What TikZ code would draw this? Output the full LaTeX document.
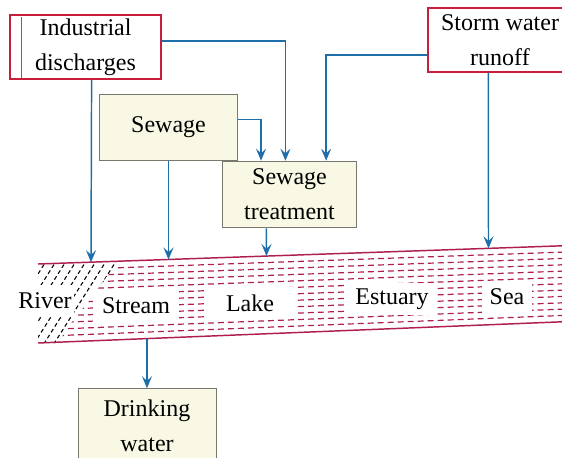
\documentclass[tikz,border=0pt]{standalone}
\usepackage{fontspec}
\setmainfont{Liberation Serif}
\usepackage{xcolor}
\usetikzlibrary{arrows.meta}
\usetikzlibrary{calc}

\definecolor{flowblue}{RGB}{30,110,170}
\definecolor{boxred}{RGB}{200,30,60}
\definecolor{riverred}{RGB}{175,30,80}
\definecolor{paleyellow}{RGB}{249,248,228}
\definecolor{boxgray}{RGB}{120,120,110}

\begin{document}
\begin{tikzpicture}[x=0.75pt,y=-0.75pt,
  font=\fontsize{18}{26}\selectfont,
  redbox/.style={draw=boxred,line width=1.2pt,fill=white,align=center,inner sep=0pt},
  paperbox/.style={draw=boxgray,line width=0.7pt,fill=paleyellow,align=center,inner sep=0pt},
  flow/.style={draw=flowblue,line width=1.1pt,-{Stealth[length=9pt,width=7.5pt,inset=3.5pt]}},
  waterlabel/.style={fill=white,inner xsep=2pt,inner ysep=3pt,minimum height=24pt},
  riverdash/.style={riverred,line width=0.9pt,dash pattern=on 4.5pt off 3pt},
  hatchdash/.style={black,line width=0.8pt,dash pattern=on 3pt off 2.2pt}]
  \useasboundingbox (0,0) rectangle (562,458);
  \clip (0,0) rectangle (562,458);

  \node (ind) [redbox,minimum width=113pt,minimum height=48pt] at (85.5,47) {Industrial\\discharges};
  \node (storm) [redbox,minimum width=108pt,minimum height=48pt] at (500,40) {Storm water\\runoff};
  \node (sew) [paperbox,minimum width=104pt,minimum height=49pt] at (168.5,127.5) {Sewage};
  \node (treat) [paperbox,minimum width=101pt,minimum height=50pt] at (289.5,194.5) {Sewage\\treatment};
  \node (drink) [paperbox,minimum width=103.5pt,minimum height=56pt] at (147,426) {Drinking\\water};
  \draw[flowblue!60!gray,line width=0.5pt] ($(ind.north west)+(12,3)$) -- ($(ind.south west)+(12,-2)$);

  \coordinate (tl) at (38,264);
  \coordinate (tr) at (562,245.8);
  \coordinate (bl) at (38,343);
  \coordinate (br) at (562,321.8);
  \begin{scope}
    \clip (124,261) .. controls (100,280) and (98,290) .. (90,300)
      .. controls (80,312) and (72,320) .. (58,343) -- (570,343) -- (570,240) -- cycle;
    \foreach \k in {1,...,11}
      \draw[riverdash] ($(tl)!\k/12!(bl)$) -- ($(tr)!\k/12!(br)$);
  \end{scope}
  \begin{scope}
    \clip (38,264) -- (124,261) .. controls (100,280) and (98,290) .. (90,300)
      .. controls (80,312) and (72,320) .. (58,343) -- (38,343) -- cycle;
    \foreach \x in {-40,-30,...,140}
      \draw[hatchdash] (\x,350) -- ++(60,-95);
  \end{scope}
  \draw[riverred,line width=1.1pt] (tl) -- (tr) (bl) -- (br);

  \node (river) [waterlabel] at (45,301) {River};
  \node (stream) [waterlabel,minimum width=64pt] at (136,306) {Stream};
  \node (lake) [waterlabel,minimum width=67pt] at (250,303) {Lake};
  \node (estuary) [waterlabel,minimum width=68pt] at (392,299) {Estuary};
  \node (sea) [waterlabel,minimum width=38pt] at (507,297) {Sea};

  \coordinate (indin) at (91,262.2);
  \coordinate (sewin) at (168.5,259.5);
  \coordinate (treatin) at (266.5,256);
  \coordinate (stormin) at (488.5,248.3);
  \coordinate (riverout) at (147,338.5);

  \draw[flow] ($(ind.north east)!.41!(ind.south east)$) -| ($(treat.north west)!.47!(treat.north east)$);
  \draw[flow] ($(storm.north west)!.73!(storm.south west)$) -| ($(treat.north west)!.77!(treat.north east)$);
  \draw[flow] ($(sew.north east)!.38!(sew.south east)$) -| ($(treat.north west)!.29!(treat.north east)$);
  \draw[flow] ($(ind.south west)!.54!(ind.south east)$) -- (indin);
  \draw[flow] (sew.south) -- (sewin);
  \draw[flow] ($(treat.south west)!.33!(treat.south east)$) -- (treatin);
  \draw[flow] ($(storm.south west)!.42!(storm.south east)$) -- (stormin);
  \draw[flow] (riverout) -- (drink.north);
\end{tikzpicture}
\end{document}
